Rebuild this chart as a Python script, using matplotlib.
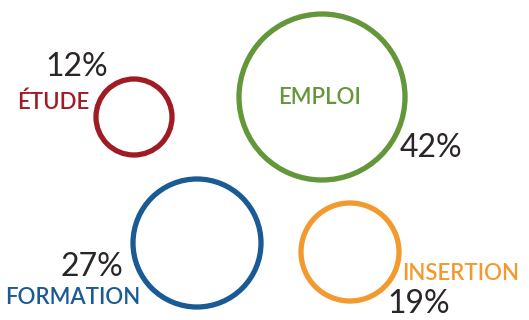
import matplotlib.pyplot as plt
from matplotlib.patches import Circle

categories = ['ÉTUDE', 'EMPLOI', 'FORMATION', 'INSERTION']
values = [12, 42, 27, 19]
colors = ['#a01c24', '#64963a', '#1b5b95', '#f39a2e']

# layout in pixel coords (y down): circle centre, radius
centres = [(134, 117), (322, 97), (197, 243), (350, 252)]
radii = [38, 83, 64, 49]
# label position/alignment, percent position/alignment
label_pos = [(89, 102, 'right'), (320, 97, 'center'), (140, 298, 'right'), (402, 273, 'left')]
pct_pos = [(108, 67, 'right'), (400, 148, 'left'), (123, 267, 'right'), (387, 304, 'left')]

W, H = 529, 320
fig = plt.figure(figsize=(W / 100, H / 100), dpi=100)
ax = fig.add_axes([0, 0, 1, 1])
ax.set_xlim(0, W)
ax.set_ylim(H, 0)
ax.set_aspect('equal')
ax.axis('off')

for cat, val, col, c, r, lp, pp in zip(categories, values, colors, centres, radii,
                                        label_pos, pct_pos):
    ax.add_patch(Circle(c, r, fill=False, edgecolor=col, linewidth=3.8))
    ax.text(lp[0], lp[1], cat, color=col, fontsize=16, family='Lato',
            weight='semibold', ha=lp[2], va='center')
    ax.text(pp[0], pp[1], f'{val}%', color='#2a2627', fontsize=23, family='Lato',
            ha=pp[2], va='center')

fig.savefig('out.png', dpi=100)
